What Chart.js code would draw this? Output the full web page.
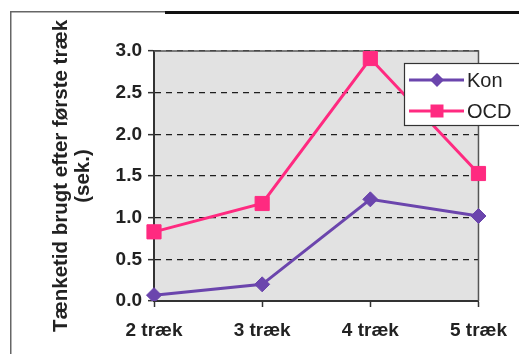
<!DOCTYPE html>
<html lang="da">
<head>
<meta charset="utf-8">
<title>Tænketid brugt efter første træk</title>
<script src="https://cdn.jsdelivr.net/npm/chart.js@4/dist/chart.umd.min.js"></script>
<style>
  html, body { margin: 0; padding: 0; background: #ffffff; }
  #wrap { position: relative; width: 519px; height: 354px; }
  canvas { display: block; }
</style>
</head>
<body>
<div id="wrap"><canvas id="chart" width="519" height="354"></canvas></div>
<script>
// Categories and series values
const categories = ['2 træk', '3 træk', '4 træk', '5 træk'];
const konValues = [0.07, 0.20, 1.22, 1.02];
const ocdValues = [0.83, 1.17, 2.91, 1.53];
const seriesNames = ['Kon', 'OCD'];
const yTitleLines = ['Tænketid brugt efter første træk', '(sek.)'];
const yMin = 0, yMax = 3, yStep = 0.5;

const FONT = "'Liberation Sans', Arial, Helvetica, sans-serif";
const KON_COLOR = '#6b45ad';
const OCD_COLOR = '#ff2a80';
const AXIS_COLOR = '#333333';

// Grey plot background, frame round the plot and the outer figure frame
const framePlugin = {
  id: 'frame',
  beforeDraw(chart) {
    const { ctx, chartArea: a, width, height } = chart;
    ctx.save();
    ctx.fillStyle = '#e2e2e2';
    ctx.fillRect(a.left, a.top, a.right - a.left, a.bottom - a.top);
    // outer figure frame
    ctx.strokeStyle = '#666666';
    ctx.lineWidth = 1.5;
    ctx.beginPath();
    ctx.moveTo(10.75, height);
    ctx.lineTo(10.75, 11.75);
    ctx.lineTo(width, 11.75);
    ctx.stroke();
    ctx.strokeStyle = '#111111';
    ctx.lineWidth = 3;
    ctx.beginPath();
    ctx.moveTo(165, 12.5);
    ctx.lineTo(width, 12.5);
    ctx.stroke();
    ctx.restore();
  },
  beforeDatasetsDraw(chart) {
    const { ctx, chartArea: a } = chart;
    ctx.save();
    ctx.strokeStyle = '#555555';
    ctx.lineWidth = 1.5;
    ctx.beginPath();
    ctx.moveTo(a.left, a.top);
    ctx.lineTo(a.right, a.top);
    ctx.lineTo(a.right, a.bottom);
    ctx.stroke();
    ctx.restore();
  }
};

// Boxed legend that sits over the upper right corner of the plot
const boxLegendPlugin = {
  id: 'boxLegend',
  afterDatasetsDraw(chart) {
    const { ctx } = chart;
    const box = { x: 404.5, y: 63.5, w: 140, h: 62 };
    ctx.save();
    ctx.fillStyle = '#ffffff';
    ctx.fillRect(box.x, box.y, box.w, box.h);
    ctx.strokeStyle = '#333333';
    ctx.lineWidth = 1.2;
    ctx.strokeRect(box.x, box.y, box.w, box.h);
    const rows = [80, 111];
    chart.data.datasets.forEach((ds, i) => {
      const y = rows[i];
      ctx.strokeStyle = ds.borderColor;
      ctx.lineWidth = 3;
      ctx.beginPath();
      ctx.moveTo(409, y);
      ctx.lineTo(464, y);
      ctx.stroke();
      ctx.fillStyle = ds.pointBackgroundColor;
      ctx.beginPath();
      if (ds.pointStyle === 'rectRot') {
        const r = 7;
        ctx.moveTo(437, y - r);
        ctx.lineTo(437 + r, y);
        ctx.lineTo(437, y + r);
        ctx.lineTo(437 - r, y);
        ctx.closePath();
      } else {
        ctx.rect(437 - 6.5, y - 6.5, 13, 13);
      }
      ctx.fill();
      ctx.fillStyle = '#222222';
      ctx.font = '20px ' + FONT;
      ctx.textAlign = 'left';
      ctx.textBaseline = 'middle';
      ctx.fillText(ds.label, 467, y + 1);
    });
    ctx.restore();
  }
};

new Chart(document.getElementById('chart'), {
  type: 'line',
  data: {
    labels: categories,
    datasets: [
      {
        label: seriesNames[0],
        data: konValues,
        borderColor: KON_COLOR,
        backgroundColor: KON_COLOR,
        pointBackgroundColor: KON_COLOR,
        pointBorderColor: KON_COLOR,
        pointStyle: 'rectRot',
        pointRadius: 7.5,
        pointBorderWidth: 1,
        borderWidth: 3,
        tension: 0
      },
      {
        label: seriesNames[1],
        data: ocdValues,
        borderColor: OCD_COLOR,
        backgroundColor: OCD_COLOR,
        pointBackgroundColor: OCD_COLOR,
        pointBorderColor: OCD_COLOR,
        pointStyle: 'rect',
        pointRadius: 10,
        pointBorderWidth: 1,
        borderWidth: 3,
        tension: 0
      }
    ]
  },
  options: {
    responsive: false,
    animation: false,
    events: [],
    layout: { padding: { top: 51, left: 10, right: 30, bottom: 0 } },
    plugins: {
      legend: { display: false },
      tooltip: { enabled: false }
    },
    scales: {
      x: {
        type: 'category',
        offset: false,
        afterFit(scale) { scale.height = 53; },
        grid: {
          drawOnChartArea: false,
          drawTicks: true,
          tickLength: 6,
          tickColor: AXIS_COLOR,
          tickWidth: 1.5
        },
        border: { display: true, color: AXIS_COLOR, width: 2 },
        ticks: {
          color: '#222222',
          padding: 12,
          maxRotation: 0,
          autoSkip: false,
          font: { family: FONT, size: 19, weight: 'bold' }
        }
      },
      y: {
        min: yMin,
        max: yMax,
        afterFit(scale) { scale.width = 144; },
        grid: {
          color: '#1e1e1e',
          lineWidth: 1.3,
          drawTicks: true,
          tickLength: 6,
          tickColor: AXIS_COLOR,
          tickWidth: 1.5,
          tickBorderDash: []
        },
        border: { display: true, color: AXIS_COLOR, width: 2, dash: [6, 5] },
        ticks: {
          stepSize: yStep,
          color: '#222222',
          padding: 6,
          font: { family: FONT, size: 19, weight: 'bold' },
          callback: (v) => Number(v).toFixed(1)
        },
        title: {
          display: true,
          text: yTitleLines,
          color: '#222222',
          padding: { top: 40, bottom: 0 },
          font: { family: FONT, size: 20.5, weight: 'bold', lineHeight: 1.1 }
        }
      }
    }
  },
  plugins: [framePlugin, boxLegendPlugin]
});
</script>
</body>
</html>
